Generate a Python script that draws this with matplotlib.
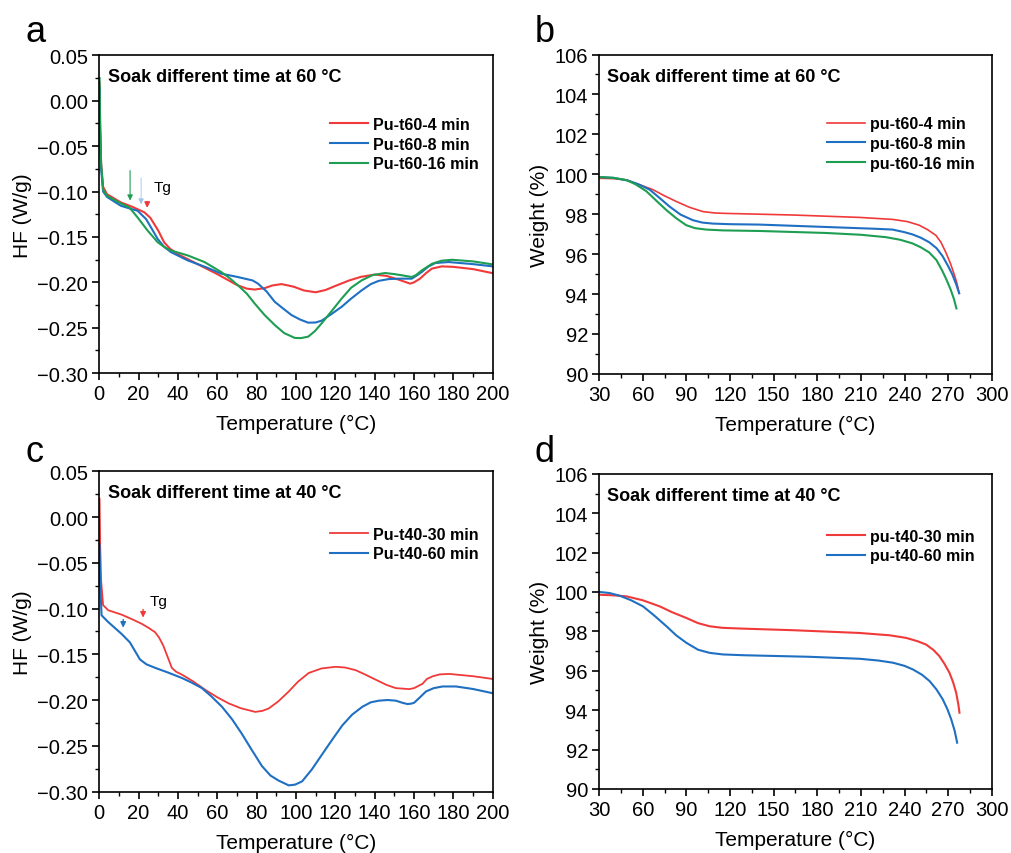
import matplotlib
matplotlib.use("Agg")
import matplotlib.pyplot as plt
from matplotlib.ticker import MultipleLocator

plt.rcParams["font.family"] = ["Liberation Sans", "DejaVu Sans"]
plt.rcParams["axes.unicode_minus"] = True

RED = "#f03a3a"
BLUE = "#1f6fc2"
GREEN = "#1e9e52"

# --- (a) DSC, soak at 60 °C ---
a_t_red = [0.2, 0.5, 1, 2, 4, 11, 17, 23, 26, 30, 33, 36, 40, 50, 60, 70, 75, 79, 84, 88, 92.6, 96, 99, 104, 110, 115, 120, 127, 133, 140, 146, 152, 158, 160, 163, 166, 169, 174, 180, 190, 200]
a_hf_red = [0.02, -0.03, -0.07, -0.095, -0.103, -0.112, -0.117, -0.123, -0.129, -0.143, -0.156, -0.163, -0.169, -0.180, -0.191, -0.203, -0.207, -0.208, -0.2065, -0.2035, -0.202, -0.2035, -0.205, -0.209, -0.211, -0.2085, -0.204, -0.198, -0.194, -0.1915, -0.193, -0.197, -0.2015, -0.200, -0.196, -0.190, -0.185, -0.1825, -0.183, -0.1855, -0.190]
a_t_blue = [0.2, 0.5, 1, 2, 4, 11, 16, 19.5, 23.8, 27, 29.7, 33, 36.5, 45, 55, 62, 70, 74, 78, 80.7, 85, 89.2, 93.5, 97.7, 102, 106.2, 110, 113, 118, 123.2, 128, 133.4, 138, 141.9, 147, 152, 158.8, 161, 163.9, 167, 170.7, 177.5, 190, 200]
a_hf_blue = [0.015, -0.035, -0.075, -0.100, -0.106, -0.1157, -0.119, -0.1212, -0.1303, -0.142, -0.1522, -0.161, -0.1668, -0.1759, -0.184, -0.1905, -0.194, -0.196, -0.198, -0.2015, -0.210, -0.2215, -0.229, -0.2361, -0.241, -0.2445, -0.2443, -0.2423, -0.235, -0.227, -0.218, -0.2088, -0.202, -0.1985, -0.1965, -0.196, -0.196, -0.193, -0.1887, -0.183, -0.1788, -0.1777, -0.180, -0.1825]
a_t_green = [0.2, 0.5, 1, 2, 4, 11, 15.3, 19.5, 24.6, 29.7, 33, 36.5, 45, 53.5, 62, 66, 70.5, 75, 79, 84, 89.2, 94, 99.4, 102.5, 106.2, 109.5, 113, 118, 123.2, 128, 133.4, 139, 145.3, 150, 153.8, 158.8, 161, 163.9, 169.1, 174, 179.3, 190, 200]
a_hf_green = [0.025, -0.03, -0.07, -0.098, -0.1047, -0.1131, -0.1175, -0.1285, -0.143, -0.1558, -0.161, -0.165, -0.1704, -0.1777, -0.1887, -0.195, -0.2033, -0.2125, -0.2234, -0.236, -0.2471, -0.256, -0.2613, -0.2615, -0.2599, -0.254, -0.2453, -0.232, -0.2179, -0.206, -0.1978, -0.192, -0.1898, -0.191, -0.1923, -0.1942, -0.192, -0.1869, -0.1796, -0.1762, -0.1752, -0.177, -0.1803]

# --- (b) TGA, soak at 60 °C ---
b_t_red = [30.5, 40, 48.8, 57, 67, 75, 83, 92, 101.4, 110, 117.4, 163.2, 208.9, 231.8, 242, 250.1, 256, 261.6, 265, 268.4, 271.5, 274.2, 276, 277.6]
b_w_red = [99.80, 99.78, 99.72, 99.50, 99.23, 98.92, 98.64, 98.35, 98.13, 98.06, 98.04, 97.96, 97.84, 97.74, 97.63, 97.45, 97.22, 96.94, 96.60, 96.09, 95.55, 94.98, 94.55, 94.04]
b_t_blue = [30.5, 40, 50, 57, 64.8, 71, 78.5, 86, 94.5, 101, 108.3, 120, 140.3, 186, 220, 231.8, 240, 245.4, 251, 256.9, 262, 266.1, 270, 272.9, 275.5, 277.6]
b_w_blue = [99.86, 99.82, 99.68, 99.50, 99.23, 98.85, 98.38, 97.98, 97.70, 97.58, 97.53, 97.50, 97.48, 97.36, 97.27, 97.23, 97.10, 96.99, 96.83, 96.60, 96.30, 95.91, 95.40, 94.98, 94.50, 94.04]
b_t_green = [30.5, 40, 48.8, 55, 62.5, 69, 76.2, 83, 89.9, 96, 103.7, 115, 140.3, 186, 210, 227.2, 237, 245.4, 251, 256.9, 262, 266.1, 269, 271.8, 274, 275.7]
b_w_green = [99.86, 99.82, 99.71, 99.50, 99.15, 98.70, 98.21, 97.80, 97.45, 97.30, 97.23, 97.19, 97.16, 97.06, 96.97, 96.85, 96.72, 96.54, 96.35, 96.09, 95.70, 95.15, 94.70, 94.21, 93.75, 93.28]

# --- (c) DSC, soak at 40 °C ---
c_t_red = [0.2, 0.5, 1, 2, 4.6, 11.4, 17, 21.6, 25, 28.4, 30.5, 32.6, 34.8, 36.9, 39, 42, 48, 53.9, 60, 65.8, 72, 79.3, 83, 86.1, 91, 96.3, 101, 106.5, 113, 120.1, 125, 130.3, 135, 140.5, 146, 150.7, 157.5, 160, 164.3, 166.5, 169.4, 173, 177.9, 190, 200]
c_hf_red = [0.02, -0.03, -0.07, -0.0963, -0.1019, -0.1067, -0.112, -0.1167, -0.121, -0.1259, -0.132, -0.1407, -0.153, -0.1648, -0.169, -0.1722, -0.180, -0.1889, -0.197, -0.2037, -0.209, -0.213, -0.2118, -0.2093, -0.2015, -0.1907, -0.180, -0.1704, -0.1655, -0.1637, -0.1645, -0.1674, -0.172, -0.1778, -0.1835, -0.187, -0.1881, -0.187, -0.1822, -0.177, -0.1741, -0.172, -0.1715, -0.174, -0.177]
c_t_blue = [0.2, 0.5, 1.2, 4.6, 11.4, 15.6, 20.7, 24, 28.4, 35, 42, 47, 52.2, 57, 62.4, 67.5, 72.5, 77.5, 82.7, 87, 91.2, 96.3, 99.5, 103.1, 108, 113.3, 118.5, 123.5, 128.5, 133.7, 138, 142.2, 146.5, 150.7, 154, 156.6, 158.5, 160, 163, 166, 170, 174.5, 181.3, 190, 200]
c_hf_blue = [-0.03, -0.07, -0.1074, -0.1148, -0.1278, -0.137, -0.1556, -0.161, -0.1648, -0.170, -0.1759, -0.181, -0.187, -0.196, -0.2074, -0.221, -0.237, -0.2545, -0.2722, -0.2825, -0.2881, -0.2933, -0.2925, -0.2889, -0.276, -0.2593, -0.243, -0.2278, -0.216, -0.2074, -0.2025, -0.2007, -0.200, -0.2007, -0.203, -0.2044, -0.204, -0.203, -0.197, -0.1907, -0.187, -0.1852, -0.1852, -0.188, -0.1926]

# --- (d) TGA, soak at 40 °C ---
d_t_red = [30.5, 40, 48.8, 60, 71.7, 80, 90, 98, 106, 115, 128.9, 163.3, 209.1, 230, 241.1, 249, 254.9, 260, 264, 267.5, 270.9, 273.5, 275.5, 277, 277.8]
d_w_red = [99.86, 99.83, 99.78, 99.58, 99.27, 98.98, 98.68, 98.42, 98.26, 98.18, 98.14, 98.06, 97.92, 97.80, 97.67, 97.50, 97.33, 97.05, 96.74, 96.35, 95.90, 95.40, 94.89, 94.30, 93.87]
d_t_blue = [30.5, 37, 44.2, 52, 60.2, 68, 76.3, 83, 90, 98, 106, 115, 128.9, 174.7, 209.1, 222, 232, 240, 245.7, 252, 257.2, 262, 266.3, 269.5, 272.1, 274.5, 276.2]
d_w_blue = [100.0, 99.95, 99.81, 99.58, 99.27, 98.80, 98.26, 97.80, 97.42, 97.07, 96.91, 96.83, 96.79, 96.71, 96.61, 96.52, 96.41, 96.25, 96.07, 95.80, 95.48, 95.05, 94.55, 94.05, 93.54, 92.95, 92.35]

TICK_FS = 14.5
LABEL_FS = 15
TITLE_FS = 13
LEG_FS = 11.5

fig = plt.figure(figsize=(10.12, 8.54), dpi=100)
ax_a = fig.add_axes([0.098, 0.562, 0.389, 0.372])
ax_b = fig.add_axes([0.592, 0.561, 0.388, 0.374])
ax_c = fig.add_axes([0.098, 0.072, 0.389, 0.375])
ax_d = fig.add_axes([0.592, 0.075, 0.388, 0.369])


def style(ax):
    for s in ax.spines.values():
        s.set_linewidth(1.2)
    ax.tick_params(which="major", direction="out", length=5, width=1.2, labelsize=TICK_FS, pad=3)
    ax.tick_params(which="minor", direction="out", length=3, width=1.0)
    ax.set_xlabel("Temperature (°C)", fontsize=LABEL_FS, labelpad=8)


def dsc_axes(ax, title):
    style(ax)
    ax.set_xlim(0, 200)
    ax.set_ylim(-0.30, 0.05)
    ax.xaxis.set_major_locator(MultipleLocator(20))
    ax.xaxis.set_minor_locator(MultipleLocator(10))
    ax.yaxis.set_major_locator(MultipleLocator(0.05))
    ax.yaxis.set_minor_locator(MultipleLocator(0.025))
    ax.set_ylabel("HF (W/g)", fontsize=LABEL_FS, labelpad=4)
    ax.text(0.023, 0.935, title, transform=ax.transAxes, fontsize=TITLE_FS,
            fontweight="bold", va="center", ha="left")


def tga_axes(ax, title):
    style(ax)
    ax.set_xlim(30, 300)
    ax.set_ylim(90, 106)
    ax.xaxis.set_major_locator(MultipleLocator(30))
    ax.xaxis.set_minor_locator(MultipleLocator(15))
    ax.yaxis.set_major_locator(MultipleLocator(2))
    ax.yaxis.set_minor_locator(MultipleLocator(1))
    ax.set_ylabel("Weight (%)", fontsize=LABEL_FS, labelpad=4)
    ax.text(0.02, 0.93, title, transform=ax.transAxes, fontsize=TITLE_FS,
            fontweight="bold", va="center", ha="left")


def legend(ax, anchor):
    ax.legend(loc="upper right", bbox_to_anchor=anchor, frameon=False,
              prop={"size": LEG_FS, "weight": "bold"}, handlelength=2.4,
              handletextpad=0.3, labelspacing=0.3, borderpad=0.4)


def tg_mark(ax, x, y0, y1, color, lw=1.0):
    ax.annotate("", xy=(x, y1), xytext=(x, y0),
                arrowprops=dict(arrowstyle="-|>", color=color, lw=lw,
                                mutation_scale=8, shrinkA=0, shrinkB=0))


# (a)
ax_a.plot(a_t_red, a_hf_red, color=RED, lw=1.5, label="Pu-t60-4 min")
ax_a.plot(a_t_blue, a_hf_blue, color=BLUE, lw=1.5, label="Pu-t60-8 min")
ax_a.plot(a_t_green, a_hf_green, color=GREEN, lw=1.5, label="Pu-t60-16 min")
dsc_axes(ax_a, "Soak different time at 60 °C")
legend(ax_a, (1.0, 0.852))
tg_mark(ax_a, 15.7, -0.077, -0.110, GREEN, lw=0.8)
tg_mark(ax_a, 21.3, -0.085, -0.114, "#9cc3ea", lw=0.6)
tg_mark(ax_a, 24.4, -0.111, -0.118, RED)
ax_a.text(27.5, -0.0946, "Tg", fontsize=11, va="center", ha="left")

# (b)
ax_b.plot(b_t_red, b_w_red, color=RED, lw=1.2, label="pu-t60-4 min")
ax_b.plot(b_t_blue, b_w_blue, color=BLUE, lw=1.5, label="pu-t60-8 min")
ax_b.plot(b_t_green, b_w_green, color=GREEN, lw=1.5, label="pu-t60-16 min")
tga_axes(ax_b, "Soak different time at 60 °C")
legend(ax_b, (0.993, 0.852))

# (c)
ax_c.plot(c_t_red, c_hf_red, color=RED, lw=1.3, label="Pu-t40-30 min")
ax_c.plot(c_t_blue, c_hf_blue, color=BLUE, lw=1.5, label="Pu-t40-60 min")
dsc_axes(ax_c, "Soak different time at 40 °C")
legend(ax_c, (1.0, 0.872))
tg_mark(ax_c, 22.3, -0.101, -0.110, RED)
tg_mark(ax_c, 12.2, -0.112, -0.121, BLUE)
ax_c.text(25.5, -0.0917, "Tg", fontsize=11, va="center", ha="left")

# (d)
ax_d.plot(d_t_red, d_w_red, color=RED, lw=1.5, label="pu-t40-30 min")
ax_d.plot(d_t_blue, d_w_blue, color=BLUE, lw=1.5, label="pu-t40-60 min")
tga_axes(ax_d, "Soak different time at 40 °C")
legend(ax_d, (0.993, 0.872))

for lbl, x, y in [("a", 0.025, 0.962), ("b", 0.528, 0.962), ("c", 0.025, 0.47), ("d", 0.528, 0.47)]:
    fig.text(x, y, lbl, fontsize=26, va="center", ha="left")

fig.savefig("out.png", dpi=100)
